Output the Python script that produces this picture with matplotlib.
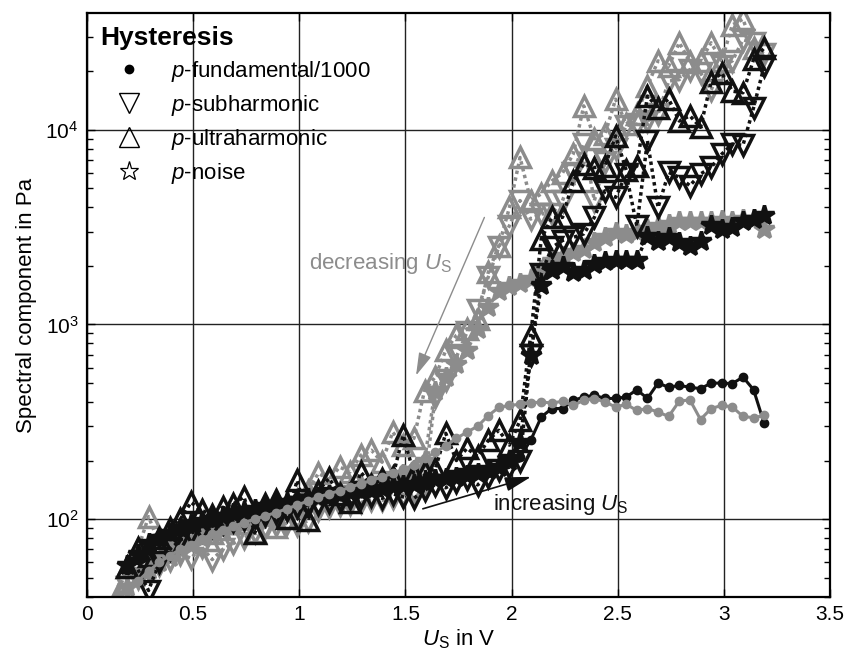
import numpy as np
import matplotlib
matplotlib.use("Agg")
import matplotlib.pyplot as plt
from matplotlib.lines import Line2D

plt.rcParams["font.family"] = ["Liberation Sans", "DejaVu Sans"]
plt.rcParams["mathtext.fontset"] = "custom"
plt.rcParams["mathtext.rm"] = "Liberation Sans"
plt.rcParams["mathtext.it"] = "Liberation Sans:italic"
plt.rcParams["mathtext.bf"] = "Liberation Sans:bold"

nan = np.nan

# drive voltage grid (V)
U_S = [0.14, 0.19, 0.24, 0.29, 0.34, 0.39, 0.44, 0.49, 0.54, 0.59,
       0.64, 0.69, 0.74, 0.79, 0.84, 0.89, 0.94, 0.99, 1.04, 1.09,
       1.14, 1.19, 1.24, 1.29, 1.34, 1.39, 1.44, 1.49, 1.54, 1.59,
       1.64, 1.69, 1.74, 1.79, 1.84, 1.89, 1.94, 1.99, 2.04, 2.09,
       2.14, 2.19, 2.24, 2.29, 2.34, 2.39, 2.44, 2.49, 2.54, 2.59,
       2.64, 2.69, 2.74, 2.79, 2.84, 2.89, 2.94, 2.99, 3.04, 3.09,
       3.14, 3.19]

# increasing U_S (black)
fund_inc = [nan, 55, 62, 70, 76, 82, 86, 90, 95, 98,
            102, 106, 110, 114, 118, 122, 126, 130, 133, 136,
            138, 140, 142, 144, 146, 148, 150, 152, 155, 158,
            162, 165, 168, 172, 176, 182, 190, 200, 209, 254,
            335, 370, 370, 407, 424, 433, 417, 417, 424, 462,
            417, 500, 476, 486, 476, 468, 500, 500, 497, 537,
            462, 310]
sub_inc = [nan, nan, 55, 43, 60, 70, 78, 85, 88, 92,
           95, 98, 100, 103, 105, 108, 112, 115, 118, 120,
           122, 125, 128, 130, 132, 128, 135, 130, 128, 141,
           150, 145, 155, 160, 150, 165, 178, 185, 200, 700,
           1820, 2490, 2700, 2800, 2920, 3550, 4860, 4500, 5930, 3200,
           8790, 3990, 6040, 5700, 5170, 5930, 6410, 7500, 8450, 8330,
           13000, 21300]
ultra_inc = [nan, 57, 71, 65, 80, 90, 100, 122, 111, 105,
             115, 120, 130, 85, 120, 125, 101, 158, 99, 140,
             162, 135, 122, 174, 150, 160, 165, 270, 170, 175,
             180, 276, 200, 231, 210, 254, 286, 240, 322, 880,
             2760, 3550, 3550, 5470, 6680, 6400, 6500, 9300, 6200, 6500,
             14900, 13000, 14400, 11100, 11800, 10300, 17600, 19600, 15800, 15500,
             23000, 26300]
noise_inc = [nan, 58, 66, 75, 80, 85, 90, 94, 98, 100,
             104, 108, 110, 113, 117, 120, 122, 125, 128, 130,
             133, 135, 138, 140, 142, 145, 148, 150, 152, 155,
             160, 162, 165, 168, 172, 178, 185, 200, 250, 700,
             1600, 1895, 2000, 1850, 1895, 2050, 2130, 2150, 2150, 2150,
             2860, 2700, 2800, 2640, 2540, 2700, 3230, 3100, 3150, 3420,
             3500, 3650]

# decreasing U_S (gray)
fund_dec = [40, 43, 48, 54, 60, 65, 70, 74, 79, 84,
            88, 92, 96, 100, 104, 108, 113, 118, 124, 130,
            135, 140, 146, 152, 158, 165, 172, 180, 190, 205,
            220, 238, 260, 280, 300, 340, 375, 384, 389, 395,
            400, 395, 403, 384, 408, 416, 400, 377, 389, 362,
            370, 355, 337, 404, 410, 325, 370, 384, 377, 337,
            332, 341]
sub_dec = [nan, 45, 50, 55, 58, 62, 66, 63, 72, 62,
           70, 75, 80, 86, 91, 93, 95, 93, 98, 111,
           115, 118, 120, 122, 125, 125, 128, 133, 140, 150,
           424, 516, 680, 912, 1180, 1750, 2500, 3220, 4330, 3480,
           3700, 3700, 4330, 6000, 8450, 4330, 6800, 8000, 10500, 10700,
           11100, 12000, 17800, 18100, 20400, 19600, 16000, 21200, 22600, 29000,
           28000, 24400]
ultra_dec = [40, 57, 70, 103, 75, 70, 80, 88, 92, 85,
             95, 100, 95, 86, 105, 91, 120, 125, 140, 172,
             160, 185, 175, 213, 226, 196, 280, 240, 260, 458,
             537, 736, 880, 950, 1070, 1850, 2540, 3990, 7210, 4330,
             4690, 5470, 6000, 7500, 13270, 9000, 9500, 14360, 10700, 12000,
             16800, 22600, 21200, 28000, 22400, 22600, 28000, 22600, 34600, 37000,
             26300, nan]
noise_dec = [38, 45, 50, 55, 60, 64, 70, 74, 80, 85,
             88, 92, 96, 100, 104, 108, 112, 117, 122, 128,
             133, 138, 143, 148, 153, 158, 163, 170, 178, 200,
             458, 535, 630, 736, 950, 1230, 1490, 1580, 1640, 1720,
             1900, 2130, 2250, 2350, 2450, 2640, 2800, 2970, 2920, 3000,
             3100, 3200, 3300, 3420, 3420, 3400, 3420, 3450, 3420, 3500,
             3500, 3100]

BLACK = "#111111"
GRAY = "#8c8c8c"
DOTTED = (0, (1, 1))

fig = plt.figure(figsize=(8.46, 6.61), dpi=100)
ax = fig.add_axes([0.1028, 0.0968, 0.8783, 0.8835])


def harmonic(y, color, marker, ms, filled=False):
    ax.plot(U_S, y, color=color, ls=DOTTED, lw=2.5, marker=marker, ms=ms,
            mec=color, mew=2.5, mfc=color if filled else "none",
            dash_capstyle="butt")


# decreasing branch first, increasing on top
harmonic(noise_dec, GRAY, "*", 15, filled=True)
harmonic(sub_dec, GRAY, "v", 15)
harmonic(ultra_dec, GRAY, "^", 15)
harmonic(noise_inc, BLACK, "*", 15, filled=True)
harmonic(sub_inc, BLACK, "v", 15)
harmonic(ultra_inc, BLACK, "^", 15)

ax.plot(U_S, fund_inc, color=BLACK, lw=2.2, marker="o", ms=6)
ax.plot(U_S, fund_dec, color=GRAY, lw=2.2, marker="o", ms=6)

ax.set_yscale("log")
ax.set_xlim(0, 3.5)
ax.set_ylim(10 ** 1.6, 10 ** 4.6)
ax.set_xticks([0, 0.5, 1, 1.5, 2, 2.5, 3, 3.5])
ax.set_xticklabels(["0", "0.5", "1", "1.5", "2", "2.5", "3", "3.5"])
ax.grid(True, which="major", color="#222222", lw=1.0)
ax.tick_params(which="both", direction="in", top=True, right=True,
               labelsize=15, width=1.0)
ax.tick_params(which="major", length=6, pad=6)
ax.tick_params(which="minor", length=4)
for sp in ax.spines.values():
    sp.set_linewidth(1.6)

ax.set_xlabel(r"$U_\mathrm{S}$ in V", fontsize=16, labelpad=2)
ax.set_ylabel("Spectral component in Pa", fontsize=16, labelpad=6)

# direction annotations
ax.annotate("", xy=(1.550, 547), xytext=(1.872, 3548),
            arrowprops=dict(arrowstyle="-|>,head_length=0.7,head_width=0.2",
                            color=GRAY, lw=1.0, mutation_scale=20,
                            shrinkA=0, shrinkB=0))
ax.text(1.717, 1932, r"decreasing $U_\mathrm{S}$", color=GRAY, fontsize=16,
        ha="right", va="baseline")
ax.annotate("", xy=(2.092, 165), xytext=(1.582, 113),
            arrowprops=dict(arrowstyle="-|>,head_length=0.8,head_width=0.22",
                            color=BLACK, lw=1.2, mutation_scale=20,
                            shrinkA=0, shrinkB=0))
ax.text(1.911, 111, r"increasing $U_\mathrm{S}$", color=BLACK, fontsize=16,
        ha="left", va="baseline")

# legend
handles = [
    Line2D([], [], ls="none", marker="o", color="k", ms=6),
    Line2D([], [], ls="none", marker="v", mec="k", mfc="none", ms=14, mew=1.0),
    Line2D([], [], ls="none", marker="^", mec="k", mfc="none", ms=14, mew=1.0),
    Line2D([], [], ls="none", marker="*", mec="k", mfc="none", ms=14, mew=0.9),
]
labels = [r"$p$-fundamental/1000", r"$p$-subharmonic",
          r"$p$-ultraharmonic", r"$p$-noise"]
leg = ax.legend(handles, labels, title="Hysteresis", loc="upper left",
                bbox_to_anchor=(0.0, 1.0), frameon=False, fontsize=16,
                title_fontproperties={"weight": "bold", "size": 19},
                alignment="left", handlelength=2.6, handletextpad=0.6,
                labelspacing=0.4, borderaxespad=0.2, borderpad=0.4)

fig.savefig("out.png", dpi=100)
